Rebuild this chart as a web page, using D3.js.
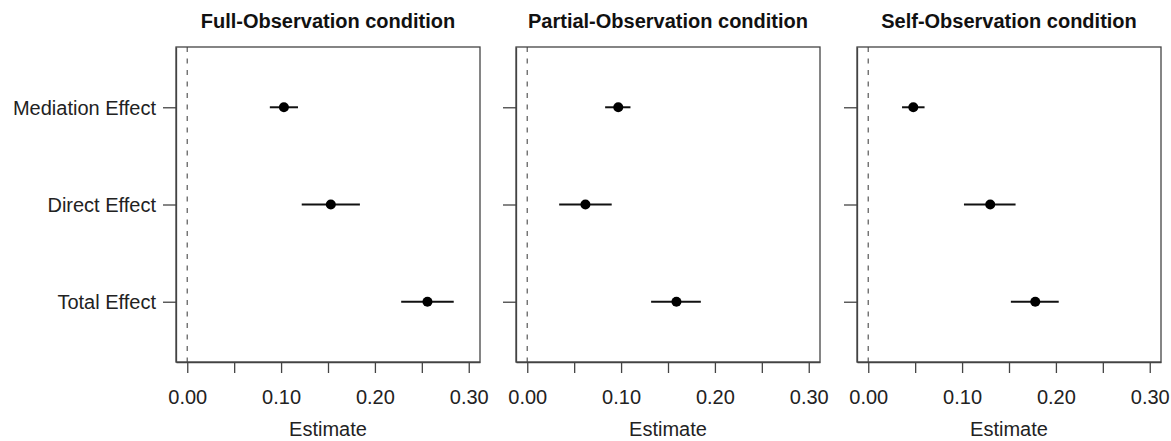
<!DOCTYPE html>
<html>
<head>
<meta charset="utf-8">
<script src="https://cdn.jsdelivr.net/npm/d3@7"></script>
<style>
  html, body { margin: 0; padding: 0; background: #fff; }
  svg { display: block; font-family: "Liberation Sans", Arial, sans-serif; }
</style>
</head>
<body>
<svg id="chart" width="1171" height="441"></svg>
<script>
// ---- data ----
const panelTitles = ["Full-Observation condition", "Partial-Observation condition", "Self-Observation condition"];
const effects = ["Mediation Effect", "Direct Effect", "Total Effect"];
const effectRows = [3, 2, 1];
// estimates per panel (order: Mediation, Direct, Total)
const fullEst   = [0.103, 0.153, 0.256];
const fullLow   = [0.088, 0.122, 0.228];
const fullHigh  = [0.118, 0.184, 0.284];
const partialEst  = [0.097, 0.062, 0.159];
const partialLow  = [0.083, 0.034, 0.132];
const partialHigh = [0.110, 0.090, 0.185];
const selfEst  = [0.048, 0.130, 0.178];
const selfLow  = [0.036, 0.102, 0.152];
const selfHigh = [0.060, 0.157, 0.203];
const xTicks = [0, 0.05, 0.10, 0.15, 0.20, 0.25, 0.30];
const xTickLabels = ["0.00", "", "0.10", "", "0.20", "", "0.30"];
const xLabel = "Estimate";

const panelsData = [
  {est: fullEst, low: fullLow, high: fullHigh},
  {est: partialEst, low: partialLow, high: partialHigh},
  {est: selfEst, low: selfLow, high: selfHigh}
];

// ---- layout ----
const svg = d3.select("#chart");
const panelLefts = [176, 516, 857];
const panelW = 304;
const plotTop = 47, plotBottom = 362;
const fontSize = 20;

const y = d3.scaleLinear().domain([0.38, 3.62]).range([plotBottom, plotTop]);

panelsData.forEach((pd, pi) => {
  const left = panelLefts[pi];
  const x = d3.scaleLinear().domain([-0.012, 0.312]).range([left, left + panelW]);
  const g = svg.append("g");

  // dashed zero line
  g.append("line")
    .attr("x1", x(0)).attr("x2", x(0))
    .attr("y1", plotTop).attr("y2", plotBottom)
    .attr("stroke", "#707070").attr("stroke-width", 1.4)
    .attr("stroke-dasharray", "5,6.5");

  // x axis
  const xAxis = d3.axisBottom(x).tickValues(xTicks).tickSize(11).tickSizeOuter(0)
    .tickFormat((d, i) => xTickLabels[i]);
  const xg = g.append("g").attr("transform", `translate(0,${plotBottom})`).call(xAxis);
  xg.select(".domain").attr("stroke", "#444").attr("stroke-width", 1.3);
  xg.selectAll(".tick line").attr("stroke", "#444").attr("stroke-width", 1.3);
  xg.selectAll(".tick text").attr("font-size", fontSize).attr("fill", "#222")
    .attr("font-family", "Liberation Sans, Arial, sans-serif").attr("dy", 0).attr("y", 42);

  // y axis
  const yAxis = d3.axisLeft(y).tickValues(effectRows).tickSize(13).tickSizeOuter(0)
    .tickFormat((d, i) => pi === 0 ? effects[i] : "");
  const yg = g.append("g").attr("transform", `translate(${left},0)`).call(yAxis);
  yg.select(".domain").attr("stroke", "#444").attr("stroke-width", 1.3);
  yg.selectAll(".tick line").attr("stroke", "#444").attr("stroke-width", 1.3);
  yg.selectAll(".tick text").attr("font-size", fontSize).attr("fill", "#222")
    .attr("font-family", "Liberation Sans, Arial, sans-serif").attr("x", -20).attr("dy", "0.35em");

  // box
  g.append("rect")
    .attr("x", left).attr("y", plotTop)
    .attr("width", panelW).attr("height", plotBottom - plotTop)
    .attr("fill", "none").attr("stroke", "#444").attr("stroke-width", 1.3);

  // error bars
  g.selectAll(".ci").data(pd.est).enter().append("line")
    .attr("x1", (d, i) => x(pd.low[i])).attr("x2", (d, i) => x(pd.high[i]))
    .attr("y1", (d, i) => y(effectRows[i])).attr("y2", (d, i) => y(effectRows[i]))
    .attr("stroke", "#111").attr("stroke-width", 2);

  // points
  g.selectAll(".pt").data(pd.est).enter().append("circle")
    .attr("cx", d => x(d)).attr("cy", (d, i) => y(effectRows[i]))
    .attr("r", 5).attr("fill", "#000");

  // title
  g.append("text")
    .attr("x", left + panelW / 2).attr("y", 28)
    .attr("text-anchor", "middle").attr("font-weight", "bold")
    .attr("font-size", fontSize).attr("fill", "#111")
    .text(panelTitles[pi]);

  // x label
  g.append("text")
    .attr("x", x(0.15)).attr("y", 436)
    .attr("text-anchor", "middle")
    .attr("font-size", fontSize).attr("fill", "#222")
    .text(xLabel);
});
</script>
</body>
</html>
